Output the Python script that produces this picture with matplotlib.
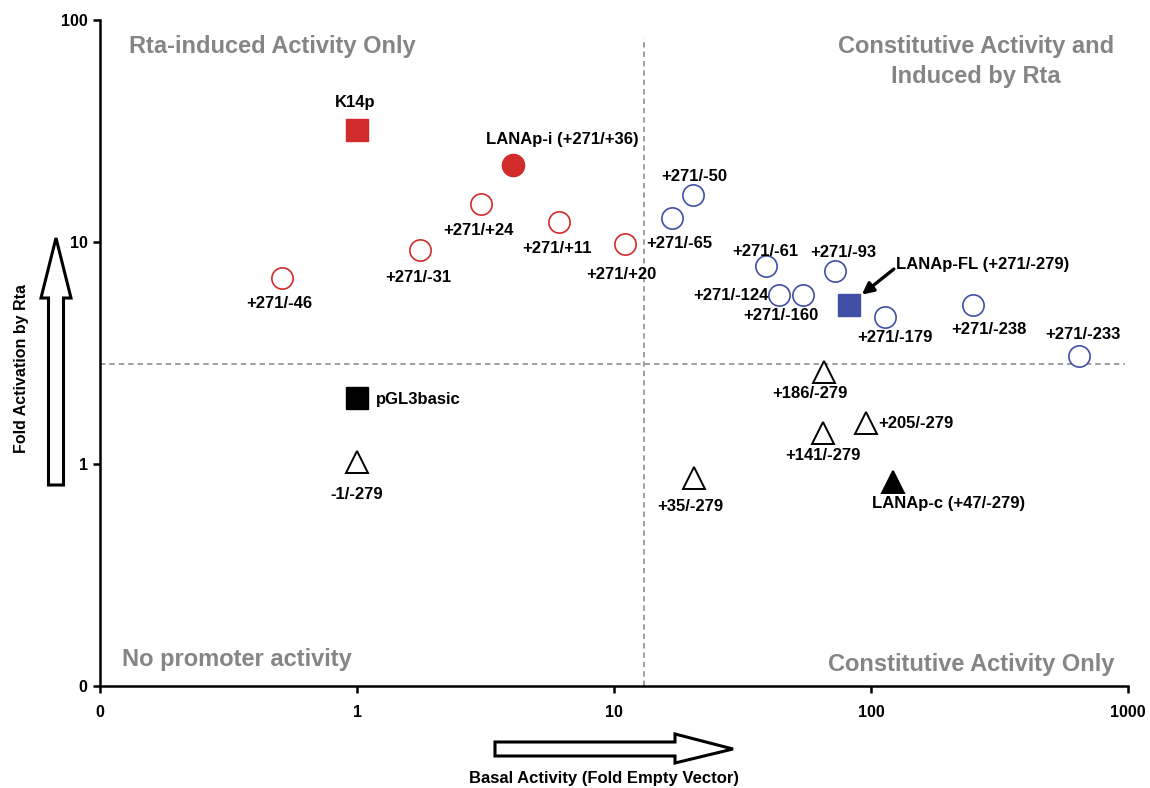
import matplotlib
matplotlib.use("Agg")
import matplotlib.pyplot as plt
from matplotlib.patches import Polygon
from matplotlib.ticker import NullLocator

plt.rcParams['font.family'] = ['Liberation Sans', 'DejaVu Sans']
plt.rcParams['font.weight'] = 'bold'

# data (basal = fold empty vector, fold = fold activation by Rta)
names = ['K14p', 'pGL3basic', '-1/-279', '+35/-279', '+186/-279', '+141/-279',
         '+205/-279', 'LANAp-c (+47/-279)',
         '+271/-46', '+271/-31', '+271/+24', '+271/+11', '+271/+20', 'LANAp-i (+271/+36)',
         '+271/-50', '+271/-65', '+271/-61', '+271/-93', '+271/-124', '+271/-160',
         'LANAp-FL (+271/-279)', '+271/-179', '+271/-238', '+271/-233']
basal = [1.0, 1.0, 1.0, 20.5, 65.6, 65.0, 95.7, 122,
         0.51, 1.76, 3.03, 6.1, 11.0, 4.05,
         20.3, 16.8, 39, 72.4, 43.8, 54.3, 82, 113, 249, 644]
fold = [32.0, 1.98, 1.02, 0.865, 2.59, 1.38, 1.53, 0.83,
        6.9, 9.2, 14.8, 12.3, 9.8, 22.2,
        16.3, 12.8, 7.8, 7.4, 5.8, 5.8, 5.2, 4.6, 5.2, 3.06]
group = ['red_sq', 'black_sq', 'tri', 'tri', 'tri', 'tri', 'tri', 'tri_fill',
         'red_open', 'red_open', 'red_open', 'red_open', 'red_open', 'red_fill',
         'blue_open', 'blue_open', 'blue_open', 'blue_open', 'blue_open', 'blue_open',
         'blue_sq', 'blue_open', 'blue_open', 'blue_open']

basal_cut = 13.1
fold_cut = 2.82

RED = '#d22b2b'
BLUE = '#4150a5'
styles = {
    'red_sq':    dict(marker='s', ms=16, mfc=RED, mec=RED, mew=1),
    'black_sq':  dict(marker='s', ms=16, mfc='black', mec='black', mew=1),
    'tri':       dict(marker='^', ms=16, mfc='white', mec='black', mew=1.4),
    'tri_fill':  dict(marker='^', ms=16, mfc='black', mec='black', mew=1.4),
    'red_open':  dict(marker='o', ms=15.3, mfc='white', mec=RED, mew=1.2),
    'red_fill':  dict(marker='o', ms=16, mfc=RED, mec=RED, mew=1),
    'blue_open': dict(marker='o', ms=15.3, mfc='white', mec=BLUE, mew=1.2),
    'blue_sq':   dict(marker='s', ms=16, mfc=BLUE, mec=BLUE, mew=1),
}

# label offsets in pixels (dx right, dy up) and alignment
label_pos = {
    'K14p': (-2, 29, 'center'), 'pGL3basic': (19, 0, 'left'),
    '-1/-279': (0, -31, 'center'), '+35/-279': (-4, -27, 'center'),
    '+186/-279': (-14, -20, 'center'), '+141/-279': (0, -21, 'center'),
    '+205/-279': (12, 1, 'left'), 'LANAp-c (+47/-279)': (55, -20, 'center'),
    '+271/-46': (-3, -24, 'center'), '+271/-31': (-2, -26, 'center'),
    '+271/+24': (-2, -25, 'center'), '+271/+11': (-2, -25, 'center'),
    '+271/+20': (-3, -29, 'center'), 'LANAp-i (+271/+36)': (49, 27, 'center'),
    '+271/-50': (1, 20, 'center'), '+271/-65': (7, -24, 'center'),
    '+271/-61': (-1, 16, 'center'), '+271/-93': (8, 20, 'center'),
    '+271/-124': (-48, 1, 'center'), '+271/-160': (-22, -19, 'center'),
    'LANAp-FL (+271/-279)': (47, 42, 'left'), '+271/-179': (10, -19, 'center'),
    '+271/-238': (16, -23, 'center'), '+271/-233': (4, 23, 'center'),
}

fig = plt.figure(figsize=(11.5, 7.88), dpi=100)
ax = fig.add_axes([100 / 1150, 102 / 788, 1028 / 1150, 666 / 788])
ax.set_xscale('log')
ax.set_yscale('log')
ax.set_xlim(0.1, 1000)
ax.set_ylim(0.1, 100)
ax.set_xticks([0.1, 1, 10, 100, 1000])
ax.set_xticklabels(['0', '1', '10', '100', '1000'])
ax.set_yticks([0.1, 1, 10, 100])
ax.set_yticklabels(['0', '1', '10', '100'])
ax.xaxis.set_minor_locator(NullLocator())
ax.yaxis.set_minor_locator(NullLocator())
ax.tick_params(axis='x', length=5, width=1.8, pad=9, labelsize=11.5)
ax.tick_params(axis='y', length=5, width=1.8, pad=4, labelsize=11.5)
for s in ['top', 'right']:
    ax.spines[s].set_visible(False)
for s in ['left', 'bottom']:
    ax.spines[s].set_linewidth(1.8)

ax.axhline(fold_cut, xmin=0, xmax=0.997, color='#999999', lw=1.3, ls=(0, (3, 2.2)), zorder=1)
ax.axvline(basal_cut, ymin=0, ymax=0.973, color='#999999', lw=1.3, ls=(0, (3, 2.2)), zorder=1)

for n, x, y, g in zip(names, basal, fold, group):
    ax.plot([x], [y], ls='none', zorder=3, **styles[g])
    dx, dy, ha = label_pos[n]
    ax.annotate(n, (x, y), xytext=(dx * 0.72, dy * 0.72), textcoords='offset points',
                ha=ha, va='center_baseline', fontsize=12, fontweight='bold', zorder=4)

i_fl = names.index('LANAp-FL (+271/-279)')
ax.annotate('', (basal[i_fl], fold[i_fl]), xytext=(45 * 0.72, 36 * 0.72),
            textcoords='offset points',
            arrowprops=dict(arrowstyle='-|>', color='black', lw=2.4,
                            shrinkA=0, shrinkB=12, mutation_scale=17))

gray = '#858585'
ax.text(0.028, 0.950, 'Rta-induced Activity Only', transform=ax.transAxes,
        color=gray, fontsize=17, fontweight='bold', ha='left', va='baseline')
ax.text(0.852, 0.950, 'Constitutive Activity and', transform=ax.transAxes,
        color=gray, fontsize=17, fontweight='bold', ha='center', va='baseline')
ax.text(0.852, 0.906, 'Induced by Rta', transform=ax.transAxes,
        color=gray, fontsize=17, fontweight='bold', ha='center', va='baseline')
ax.text(0.0214, 0.030, 'No promoter activity', transform=ax.transAxes,
        color=gray, fontsize=17, fontweight='bold', ha='left', va='baseline')
ax.text(0.987, 0.0225, 'Constitutive Activity Only', transform=ax.transAxes,
        color=gray, fontsize=17, fontweight='bold', ha='right', va='baseline')

# hollow block arrows beside the axes, drawn in pixel space
ov = fig.add_axes([0, 0, 1, 1])
ov.set_xlim(0, 1150)
ov.set_ylim(788, 0)
ov.axis('off')
up = [(48.5, 485), (63.5, 485), (63.5, 298), (71, 298), (56, 238), (41, 298), (48.5, 298)]
right = [(495, 742), (675, 742), (675, 734), (733, 749), (675, 763), (675, 756), (495, 756)]
for pts in (up, right):
    ov.add_patch(Polygon(pts, closed=True, fc='white', ec='black', lw=2.2, joinstyle='miter'))

fig.text(22 / 1150, 1 - 368 / 788, 'Fold Activation by Rta', rotation=90,
         ha='center', va='center', fontsize=11.5, fontweight='bold')
fig.text(604 / 1150, 1 - 778 / 788, 'Basal Activity (Fold Empty Vector)',
         ha='center', va='center', fontsize=12, fontweight='bold')

fig.savefig('out.png', dpi=100)
